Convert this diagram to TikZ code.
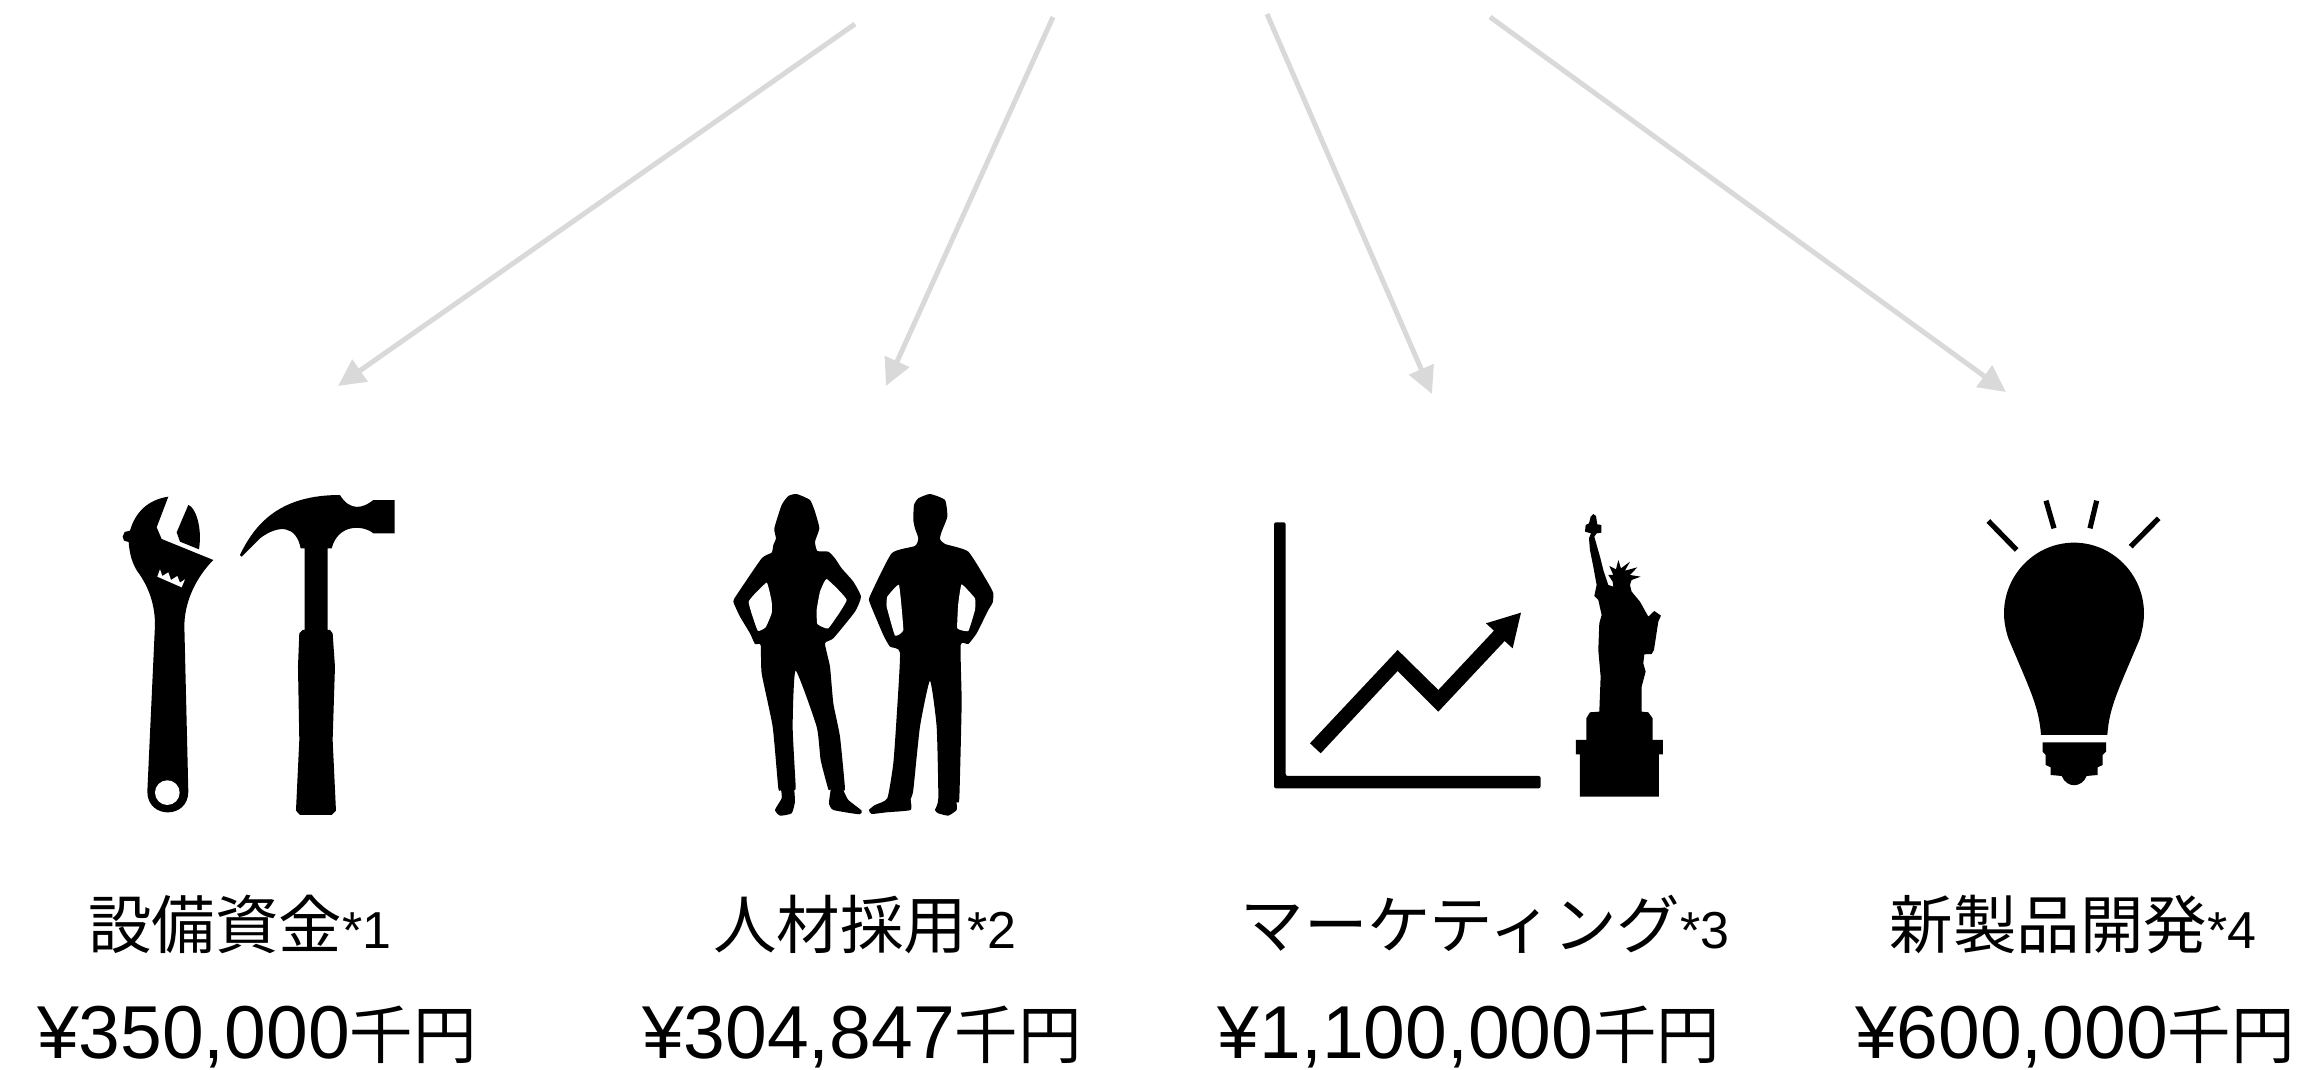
\documentclass[tikz,border=0pt]{standalone}
\usepackage{fontspec}
\setmainfont{Liberation Sans}
\newfontfamily\jpfont{Noto Sans CJK JP}
\usetikzlibrary{arrows.meta}
\tikzset{>={Triangle[width=26pt,length=27pt]}}
\definecolor{arrowgray}{HTML}{D9D9D9}
\tikzset{
  flow/.style={->,line width=5pt,color=arrowgray},
  headlabel/.style={inner sep=0pt,anchor=base},
  costlabel/.style={inner sep=0pt,anchor=base},
  zoomed/.style={scale=0.3333},
  hole/.style={fill=white},
  ray/.style={line width=5.2pt}
}
\newcommand\headtext[2]{{\jpfont\fontsize{63.5}{63.5}\selectfont #1}{\fontsize{52}{52}\selectfont*#2}}
\newcommand\costtext[1]{\smash{{\fontsize{75}{75}\selectfont ¥#1}{\jpfont\fontsize{63.5}{63.5}\selectfont 千円}}}

\begin{document}
\begin{tikzpicture}[x=1pt,y=-1pt]
  \useasboundingbox (0,0) rectangle (2305,1070);

  %% arrows
  \coordinate (from1) at (855,24);
  \coordinate (to1) at (338,386);
  \coordinate (from2) at (1053,17);
  \coordinate (to2) at (886,386);
  \coordinate (from3) at (1267,14);
  \coordinate (to3) at (1432,394);
  \coordinate (from4) at (1490,17);
  \coordinate (to4) at (2006,392);
  \foreach \i in {1,...,4}
    \draw[flow] (from\i) -- (to\i);

  %% wrench and hammer
  \begin{scope}[shift={(80,470)},zoomed]
    \fill (265,80) .. controls (200,90) and (165,130) .. (150,182)
      -- (134,186) -- (128,200) -- (132,212) -- (146,216)
      .. controls (150,270) and (165,295) .. (180,315)
      .. controls (210,360) and (225,410) .. (225,465) -- (202,965)
      .. controls (202,1048) and (325,1048) .. (325,965) -- (313,465)
      .. controls (315,380) and (360,310) .. (400,270)
      -- (245,207) -- (230,172) -- cycle;
    \fill (325,105) .. controls (345,110) and (368,170) .. (357,238)
      -- (300,215) -- (290,187) -- cycle;
    \fill[hole] (262,968) circle (37);
    \fill[hole] (232,320) -- (240,298) -- (247,318) -- (265,307) -- (273,330)
      -- (292,318) -- (300,338) -- (315,328) -- (305,352) -- cycle;
    \fill (480,255) .. controls (530,150) and (610,75) .. (780,75)
      .. controls (810,125) and (850,115) .. (880,90)
      -- (944,90) -- (944,190) -- (880,190)
      .. controls (850,165) and (775,160) .. (755,235)
      -- (743,235) -- (743,480) -- (750,480) -- (758,490)
      -- (765,590) -- (758,810) -- (768,1022) -- (755,1035) -- (660,1035)
      -- (648,1022) -- (658,810) -- (654,590) -- (658,490) -- (668,480)
      -- (674,480) -- (674,235) -- (662,235)
      .. controls (650,170) and (600,160) .. (540,205) -- (485,260) -- cycle;
  \end{scope}

  %% two people
  \begin{scope}[shift={(700,470)},zoomed]
    \fill plot[smooth cycle,tension=0.3] coordinates {(290,72) (330,90) (345,125)
      (358,175) (345,215) (352,243) (385,245) (405,265) (425,295) (460,335)
      (483,380) (465,425) (400,505) (375,520) (390,590) (400,700) (420,800)
      (435,955) (430,960) (445,990) (485,1022) (478,1033) (400,1020) (387,1000)
      (392,958) (385,958) (362,870) (350,770) (287,602) (278,770) (287,950)
      (283,960) (285,995) (275,1030) (240,1037) (225,1020) (245,985) (243,960)
      (235,955) (218,770) (185,610) (182,525) (165,522) (150,490) (120,440)
      (100,395) (110,375) (185,265) (215,248) (220,225) (228,205) (223,175)
      (245,105) (265,78)};
    \fill[hole] plot[smooth cycle,tension=0.2] coordinates {(200,338) (215,395)
      (215,430) (197,472) (173,482) (146,395)};
    \fill[hole] plot[smooth cycle,tension=0.2] coordinates {(380,327) (440,390)
      (385,475) (352,462) (350,420) (360,365)};
    \fill plot[smooth cycle,tension=0.3] coordinates {(690,72) (735,90) (742,140)
      (725,185) (720,207) (735,222) (805,245) (865,340) (880,370) (878,398)
      (865,420) (830,490) (805,522) (782,525) (785,700) (778,985) (770,995)
      (770,1020) (745,1037) (715,1030) (705,1020) (715,985) (710,770) (690,632)
      (660,770) (640,960) (632,988) (632,1020) (560,1027) (515,1032) (507,1020)
      (525,1005) (562,985) (580,880) (590,740) (600,548) (570,530) (550,495)
      (510,400) (510,378) (575,250) (645,228) (655,205) (645,175) (640,150)
      (642,105) (655,85)};
    \fill[hole] plot[smooth cycle,tension=0.2] coordinates {(597,345) (610,480)
      (585,497) (560,410) (562,380)};
    \fill[hole] plot[smooth cycle,tension=0.2] coordinates {(785,343) (825,385)
      (825,420) (805,483) (772,475) (775,400)};
  \end{scope}

  %% chart and statue
  \begin{scope}[shift={(1250,490)},zoomed]
    \fill[rounded corners=2pt] (72,97) -- (107,97) -- (107,858) -- (872,858)
      -- (872,895) -- (72,895) -- cycle;
    \fill (180,760) -- (443,480) -- (565,600) -- (732,422) -- (708,400) -- (813,368)
      -- (788,475) -- (764,453) -- (565,665) -- (443,543) -- (212,790) -- cycle;
    \fill plot coordinates {(1030,72) (1038,78) (1042,103) (1054,105) (1054,128)
      (1040,130) (1033,140) (1050,200) (1060,240) (1075,285) (1090,290) (1088,275)
      (1075,255) (1090,255) (1078,228) (1098,238) (1105,210) (1113,235) (1140,215)
      (1125,242) (1162,232) (1140,255) (1172,260) (1145,270) (1140,285) (1145,305)
      (1170,335) (1195,380) (1213,363) (1233,377) (1225,395) (1212,480) (1205,492)
      (1183,493) (1180,520) (1187,545) (1175,590) (1175,665) (1195,667) (1208,685)
      (1208,750) (1239,750) (1239,793) (1227,793) (1227,920) (990,920) (990,793)
      (978,793) (978,750) (1009,750) (1009,685) (1020,667) (1048,665) (1052,560)
      (1045,480) (1048,400) (1055,375) (1045,330) (1033,318) (1040,285) (1030,230)
      (1020,180) (1017,145) (1023,130) (1005,125) (1007,105) (1017,100) (1022,80)}
      -- cycle;
  \end{scope}

  %% bulb
  \begin{scope}[shift={(1960,490)},zoomed]
    \fill (243,735) .. controls (237,650) and (210,600) .. (145,445)
      .. controls (137,420) and (132,395) .. (132,370)
      .. controls (132,254) and (226,158) .. (342,158)
      .. controls (458,158) and (552,254) .. (552,370)
      .. controls (552,395) and (547,420) .. (540,445)
      .. controls (475,600) and (448,650) .. (442,735) -- cycle;
    \fill (248,757) -- (438,757) -- (438,785) -- (428,795) -- (428,825) -- (413,832)
      -- (413,855) -- (380,858) .. controls (365,895) and (320,895) .. (305,858)
      -- (272,855) -- (272,832) -- (257,825) -- (257,795) -- (248,785) -- cycle;
    \draw[ray] (85,93) -- (170,180);
    \draw[ray] (258,32) -- (282,115);
    \draw[ray] (410,32) -- (390,115);
    \draw[ray] (596,85) -- (512,170);
  \end{scope}

  \node[headlabel] (head1) at (240,948) {\headtext{設備資金}{1}};
  \node[headlabel] (head2) at (865,948) {\headtext{人材採用}{2}};
  \node[headlabel] (head3) at (1485,948) {\headtext{マーケティング}{3}};
  \node[headlabel] (head4) at (2073,948) {\headtext{新製品開発}{4}};

  \node[costlabel] (cost1) at (257,1058) {\costtext{350,000}};
  \node[costlabel] (cost2) at (862,1058) {\costtext{304,847}};
  \node[costlabel] (cost3) at (1469,1058) {\costtext{1,100,000}};
  \node[costlabel] (cost4) at (2075,1058) {\costtext{600,000}};

\end{tikzpicture}
\end{document}
